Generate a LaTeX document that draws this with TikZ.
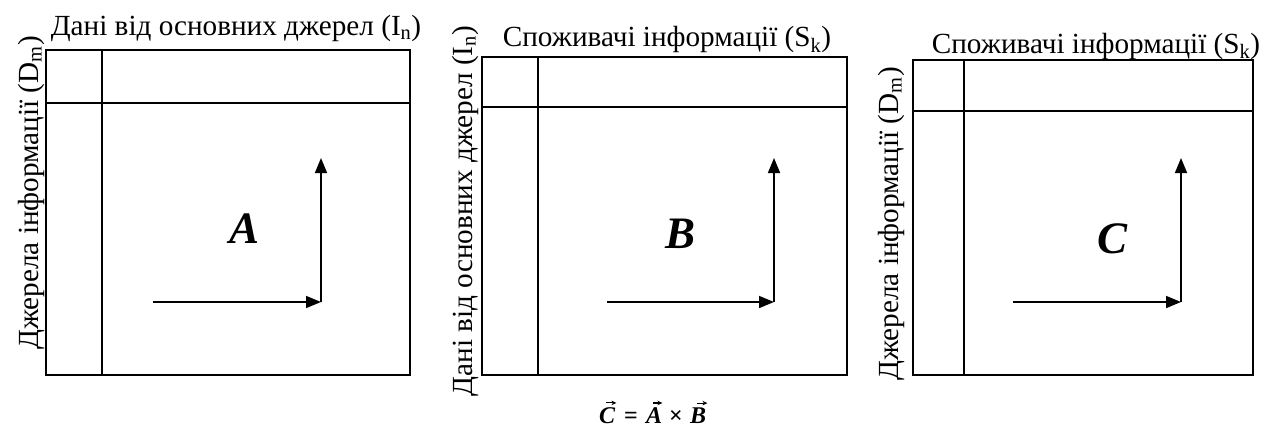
\documentclass[tikz,border=0pt]{standalone}
\usepackage{fontspec}
\setmainfont{Liberation Serif}
\usetikzlibrary{arrows.meta,calc}
\begin{document}
\begin{tikzpicture}[x=1pt,y=-1pt,
  frame/.style={draw,line width=1.6pt,inner sep=0pt,anchor=north west},
  divider/.style={line width=1.6pt},
  vecarrow/.style={line width=1.6pt,-{Triangle[length=15pt,width=12pt]}},
  lbl/.style={font=\fontsize{29.2}{31}\selectfont,inner sep=0pt,anchor=base},
  vlbl/.style={lbl,rotate=90},
  big/.style={font=\fontsize{45}{48}\selectfont\bfseries\itshape,inner sep=0pt},
  fsym/.style={font=\fontsize{24}{26}\selectfont\bfseries,inner sep=0pt,anchor=base west},
  fvar/.style={fsym,font=\fontsize{24}{26}\selectfont\bfseries\itshape},
  vecmark/.style={line width=1.1pt,-{Stealth[length=5pt,width=4.5pt]}}]
\useasboundingbox (0,0) rectangle (1276,428);
% box A
\node[frame,minimum width=364pt,minimum height=325pt] (b1) at (45,49) {};
\draw[divider] (102,49) coordinate (b1t) -- (102,374) coordinate (b1b);
\draw[divider] (45,103) coordinate (b1l) -- (409,103) coordinate (b1r);
\node[lbl] (t1) at (236,36) {Дані від основних джерел (I\textsubscript{n})};
\node[vlbl] (v1) at (38,193) {Джерела інформації (D\textsubscript{m})};
\coordinate (a1s) at (153,302);
\coordinate (a1c) at (321,302);
\coordinate (a1e) at (321,158);
\draw[vecarrow] (a1s) -- (a1c);
\draw[vecarrow] (a1c) -- (a1e);
\node[big] (A) at (245,229) {A};
% box B
\node[frame,minimum width=365pt,minimum height=318pt] (b2) at (481,56) {};
\draw[divider] (538,56) coordinate (b2t) -- (538,374) coordinate (b2b);
\draw[divider] (481,107) coordinate (b2l) -- (846,107) coordinate (b2r);
\node[lbl] (t2) at (667,47) {Споживачі інформації (S\textsubscript{k})};
\node[vlbl] (v2) at (472,211) {Дані від основних джерел (I\textsubscript{n})};
\coordinate (a2s) at (607,302);
\coordinate (a2c) at (774,302);
\coordinate (a2e) at (774,158);
\draw[vecarrow] (a2s) -- (a2c);
\draw[vecarrow] (a2c) -- (a2e);
\node[big] (B) at (680,234) {B};
% box C
\node[frame,minimum width=340pt,minimum height=315pt] (b3) at (912,59) {};
\draw[divider] (964,59) coordinate (b3t) -- (964,374) coordinate (b3b);
\draw[divider] (912,111) coordinate (b3l) -- (1252,111) coordinate (b3r);
\node[lbl] (t3) at (1096,53) {Споживачі інформації (S\textsubscript{k})};
\node[vlbl] (v3) at (898,224) {Джерела інформації (D\textsubscript{m})};
\coordinate (a3s) at (1013,302);
\coordinate (a3c) at (1181,302);
\coordinate (a3e) at (1181,158);
\draw[vecarrow] (a3s) -- (a3c);
\draw[vecarrow] (a3c) -- (a3e);
\node[big] (C) at (1112,239) {C};
% formula
\node[fvar] (fC) at (599,423) {C};
\node[fsym] (feq) at (624,423) {=};
\node[fvar] (fA) at (646,423) {A};
\node[fsym] (fx) at (669,423) {×};
\node[fvar] (fB) at (690,423) {B};
\draw[vecmark] ($(fC.north west)+(7,-4)$) -- ($(fC.north east)+(1,-4)$);
\draw[vecmark] ($(fA.north west)+(7,-4)$) -- ($(fA.north east)+(0,-4)$);
\draw[vecmark] ($(fB.north west)+(7,-4)$) -- ($(fB.north east)+(1,-4)$);
\end{tikzpicture}
\end{document}
